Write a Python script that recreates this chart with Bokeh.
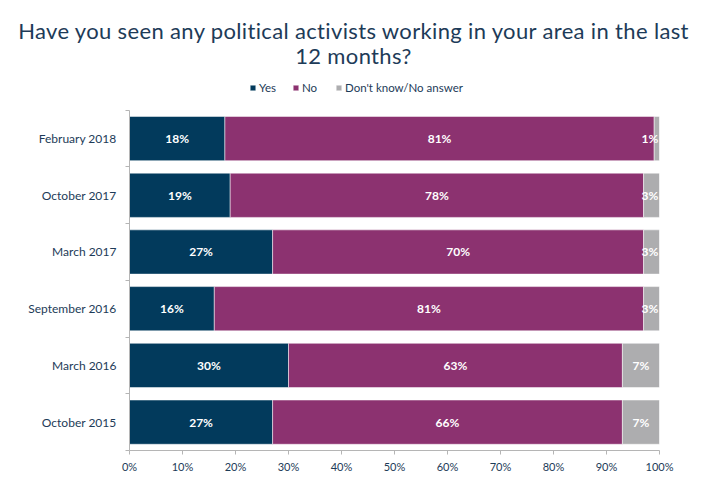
from bokeh.embed import file_html
from bokeh.resources import INLINE
from bokeh.layouts import column
from bokeh.plotting import figure
from bokeh.core.properties import value
from bokeh.models import ColumnDataSource, Div, FixedTicker, Legend, NumeralTickFormatter, LabelSet

categories = ["February 2018", "October 2017", "March 2017", "September 2016", "March 2016", "October 2015"]
yes = [18, 19, 27, 16, 30, 27]
no = [81, 78, 70, 81, 63, 66]
dont_know = [1, 3, 3, 3, 7, 7]
series = ["Yes", "No", "Don't know/No answer"]
colors = ["#023a5c", "#8c3270", "#adadaf"]
title_lines = ["Have you seen any political activists working in your area in the last", "12 months?"]

FONT = "Lato"
TEXT = "#1d3b58"

n = len(categories)
ypos = [n - i - 0.5 for i in range(n)]
data = dict(y=ypos, yes=[v / 100 for v in yes], no=[v / 100 for v in no], dk=[v / 100 for v in dont_know])
source = ColumnDataSource(data)

title = Div(text="<br>".join(title_lines), width=691, height=68, margin=0,
            styles={"font-family": FONT, "font-size": "22px", "color": TEXT,
                    "text-align": "center", "line-height": "25px", "padding-top": "18px",
                    "padding-left": "16px", "box-sizing": "border-box",
                    "letter-spacing": "0.35px", "width": "691px"})

# extra room at the top of the y range holds the legend; the axis itself stops at n
p = figure(width=691, height=423, x_range=(0, 1), y_range=(0, n + 0.7),
           output_backend="svg", toolbar_location=None, tools="", margin=0,
           min_border_left=129, min_border_right=32, min_border_bottom=41, min_border_top=2)

renderers = p.hbar_stack(["yes", "no", "dk"], y="y", height=0.78, source=source,
                         color=colors, line_color="white", line_width=0.5)

legend = Legend(items=[(s, [r]) for s, r in zip(series, renderers)], orientation="horizontal",
                location=(120, 356), glyph_width=7, glyph_height=7, label_text_font=FONT,
                label_text_font_size="11.5px", label_text_color=TEXT, label_standoff=3,
                label_height=10, spacing=13, padding=2, margin=0, border_line_color=None,
                background_fill_alpha=0)
p.add_layout(legend, "center")

# segment labels, centred in each segment
lab_x, lab_y, lab_t = [], [], []
for i in range(n):
    left = 0
    for v in (yes[i], no[i], dont_know[i]):
        mid = min((left + v / 2) / 100, 0.982)
        lab_x.append(mid)
        lab_y.append(ypos[i])
        lab_t.append(f"{v}%")
        left += v
lsrc = ColumnDataSource(dict(x=lab_x, y=lab_y, t=lab_t))
p.add_layout(LabelSet(x="x", y="y", text="t", source=lsrc, text_align="center",
                      text_baseline="middle", text_color="white", text_font=value(FONT),
                      text_font_size="12px", text_font_style="bold"))

p.xgrid.visible = False
p.ygrid.visible = False
p.outline_line_color = None

p.xaxis.ticker = FixedTicker(ticks=[i / 10 for i in range(11)])
p.xaxis.formatter = NumeralTickFormatter(format="0%")
p.xaxis.major_label_text_font = FONT
p.xaxis.major_label_text_font_size = "11px"
p.xaxis.major_label_text_color = TEXT
p.xaxis.axis_line_color = "#b5b5b5"
p.xaxis.major_tick_line_color = "#b5b5b5"
p.xaxis.major_tick_in = 0
p.xaxis.major_tick_out = 4
p.xaxis.minor_tick_line_color = None
p.xaxis.major_label_standoff = 5

p.yaxis.bounds = (0, n)
p.yaxis.ticker = FixedTicker(ticks=ypos, minor_ticks=list(range(n + 1)))
p.yaxis.major_label_overrides = {y: c for y, c in zip(ypos, categories)}
p.yaxis.major_label_text_font = FONT
p.yaxis.major_label_text_font_size = "12px"
p.yaxis.major_label_text_color = TEXT
p.yaxis.axis_line_color = "#b5b5b5"
p.yaxis.major_tick_line_color = None
p.yaxis.major_tick_out = 0
p.yaxis.major_tick_in = 0
p.yaxis.minor_tick_line_color = "#b5b5b5"
p.yaxis.minor_tick_in = 0
p.yaxis.minor_tick_out = 4
p.yaxis.major_label_standoff = 9

open("out.html", "w").write(file_html(column(title, p, spacing=0), INLINE))
